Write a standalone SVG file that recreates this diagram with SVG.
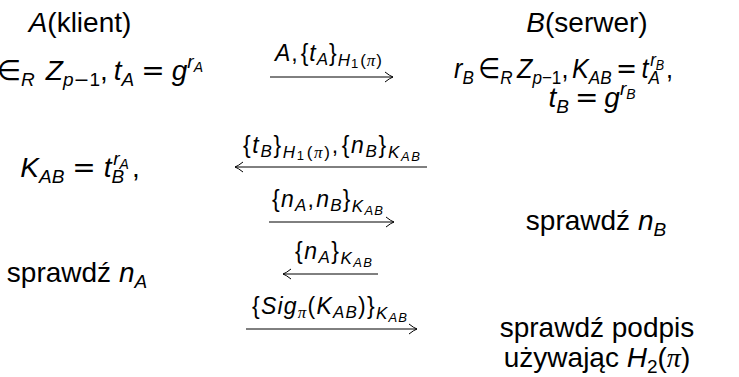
<svg xmlns="http://www.w3.org/2000/svg" width="739" height="377" viewBox="0 0 739 377">
<style>
.t{font-family:"Liberation Sans","DejaVu Sans",sans-serif;fill:#000}
.m{font-size:28px}
.i{font-style:italic}
.s{font-size:19px}
.ss{font-size:14px}
.l{font-size:23px}
.ls{font-size:17px}
.lss{font-size:13px}
.pi{font-family:"Liberation Serif",serif;font-style:italic}
.op{font-family:"DejaVu Sans",sans-serif}
.ln{fill:none;stroke:#000;stroke-width:1}
</style>
<rect width="739" height="377" fill="#fff"/>
<g id="clientA">
<text class="t m" x="80" y="32" text-anchor="middle"><tspan class="i">A</tspan>(klient)</text>
<text class="t m" x="203" y="80" text-anchor="end"><tspan class="i">r</tspan><tspan class="s i" dy="6">A</tspan><tspan class="op" dx="8" dy="-6">∈</tspan><tspan class="s i" dy="6">R</tspan><tspan class="i" dx="11" dy="-6">Z</tspan><tspan class="s i" dy="6">p</tspan><tspan class="s op">−</tspan><tspan class="s">1</tspan><tspan dy="-6">,</tspan><tspan class="i" dx="6">t</tspan><tspan class="s i" dy="6">A</tspan><tspan class="op" dx="7" dy="-6">=</tspan><tspan class="i" dx="7">g</tspan><tspan class="s i" dy="-12">r</tspan><tspan class="ss i" dy="4">A</tspan></text>
<text class="t m" x="80" y="177" text-anchor="middle"><tspan class="i">K</tspan><tspan class="s i" dy="6">AB</tspan><tspan class="op" dx="8" dy="-6">=</tspan><tspan class="i" dx="8">t</tspan><tspan class="s i" dy="6">B</tspan><tspan class="s i" dx="-11" dy="-18">r</tspan><tspan class="ss i" dy="4">A</tspan><tspan dx="3" dy="8">,</tspan></text>
<text class="t m" x="77" y="282" text-anchor="middle">sprawdź <tspan class="i">n</tspan><tspan class="s i" dy="6">A</tspan></text>
</g>
<g id="serverB">
<text class="t m" x="587" y="32" text-anchor="middle"><tspan class="i">B</tspan>(serwer)</text>
<text class="t m" x="454" y="78" textLength="219" lengthAdjust="spacingAndGlyphs"><tspan class="i">r</tspan><tspan class="s i" dy="6">B</tspan><tspan class="op" dx="5" dy="-6">∈</tspan><tspan class="s i" dy="6">R</tspan><tspan class="i" dx="5" dy="-6">Z</tspan><tspan class="s i" dy="6">p</tspan><tspan class="s">−1</tspan><tspan dy="-6">,</tspan><tspan class="i" dx="4">K</tspan><tspan class="s i" dy="6">AB</tspan><tspan class="op" dx="5" dy="-6">=</tspan><tspan class="i" dx="5">t</tspan><tspan class="s i" dy="6">A</tspan><tspan class="s i" dx="-11" dy="-18">r</tspan><tspan class="ss i" dy="4">B</tspan><tspan dx="2" dy="8">,</tspan></text>
<text class="t m" x="592" y="107" text-anchor="middle"><tspan class="i">t</tspan><tspan class="s i" dy="6">B</tspan><tspan class="op" dx="6" dy="-6">=</tspan><tspan class="i" dx="6">g</tspan><tspan class="s i" dy="-12">r</tspan><tspan class="ss i" dy="4">B</tspan></text>
<text class="t m" x="596" y="230" text-anchor="middle">sprawdź <tspan class="i">n</tspan><tspan class="s i" dy="6">B</tspan></text>
<text class="t m" x="597" y="337" text-anchor="middle">sprawdź podpis</text>
<text class="t m" x="597" y="367" text-anchor="middle">używając <tspan class="i">H</tspan><tspan class="s" dy="6">2</tspan><tspan dy="-6">(</tspan><tspan class="pi">π</tspan>)</text>
</g>
<g id="connectors">
<g id="msg1">
<path class="ln" d="M270 77H393M385 72Q390 76 393 77Q390 78 385 82"/>
<text class="t l" x="275" y="61" textLength="107" lengthAdjust="spacing"><tspan class="i">A</tspan><tspan>,</tspan><tspan dx="2">{</tspan><tspan class="i">t</tspan><tspan class="ls i" dy="4">A</tspan><tspan dy="-4">}</tspan><tspan class="ls i" dy="5">H</tspan><tspan class="lss" dy="2">1</tspan><tspan class="ls" dx="1" dy="-2">(</tspan><tspan class="ls pi">π</tspan><tspan class="ls">)</tspan></text>
</g>
<g id="msg2">
<path class="ln" d="M235 167H427M243 162Q238 166 235 167Q238 168 243 172"/>
<text class="t l" x="243" y="153" textLength="177" lengthAdjust="spacing"><tspan>{</tspan><tspan class="i">t</tspan><tspan class="ls i" dy="4">B</tspan><tspan dy="-4">}</tspan><tspan class="ls i" dy="5">H</tspan><tspan class="lss" dy="2">1</tspan><tspan class="ls" dx="1" dy="-2">(</tspan><tspan class="ls pi">π</tspan><tspan class="ls">)</tspan><tspan dy="-5">,</tspan><tspan dx="2">{</tspan><tspan class="i">n</tspan><tspan class="ls i" dy="4">B</tspan><tspan dy="-4">}</tspan><tspan class="ls i" dy="5">K</tspan><tspan class="lss i" dy="3">AB</tspan></text>
</g>
<g id="msg3">
<path class="ln" d="M269 222H394M386 217Q391 221 394 222Q391 223 386 227"/>
<text class="t l" x="272" y="207" textLength="111" lengthAdjust="spacing"><tspan>{</tspan><tspan class="i">n</tspan><tspan class="ls i" dy="4">A</tspan><tspan dy="-4">,</tspan><tspan class="i" dx="1">n</tspan><tspan class="ls i" dy="4">B</tspan><tspan dy="-4">}</tspan><tspan class="ls i" dy="5">K</tspan><tspan class="lss i" dy="3">AB</tspan></text>
</g>
<g id="msg4">
<path class="ln" d="M283 274H378M291 269Q286 273 283 274Q286 275 291 279"/>
<text class="t l" x="295" y="259" textLength="77" lengthAdjust="spacing"><tspan>{</tspan><tspan class="i">n</tspan><tspan class="ls i" dy="4">A</tspan><tspan dy="-4">}</tspan><tspan class="ls i" dy="5">K</tspan><tspan class="lss i" dy="3">AB</tspan></text>
</g>
<g id="msg5">
<path class="ln" d="M246 329H417M409 324Q414 328 417 329Q414 330 409 334"/>
<text class="t l" x="252" y="314" textLength="155" lengthAdjust="spacing"><tspan>{</tspan><tspan class="i">Sig</tspan><tspan class="ls pi" dy="4">π</tspan><tspan dy="-4">(</tspan><tspan class="i">K</tspan><tspan class="ls i" dy="4">AB</tspan><tspan dy="-4">)</tspan><tspan>}</tspan><tspan class="ls i" dy="5">K</tspan><tspan class="lss i" dy="3">AB</tspan></text>
</g>
</g>
</svg>
